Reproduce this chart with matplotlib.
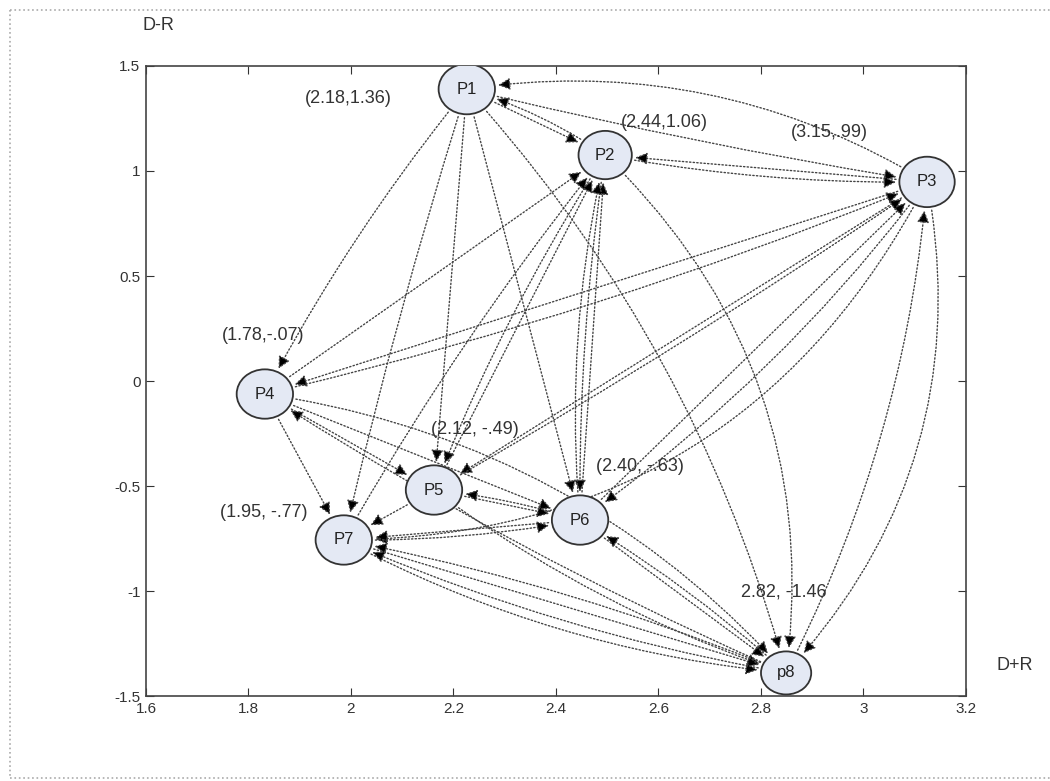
import matplotlib
matplotlib.use('Agg')
import matplotlib.pyplot as plt
from matplotlib.patches import Ellipse, FancyArrowPatch
from matplotlib.lines import Line2D

plt.rcParams['font.family'] = ['Liberation Sans', 'DejaVu Sans']

# node positions (D+R, D-R) as drawn
node_names = ['P1', 'P2', 'P3', 'P4', 'P5', 'P6', 'P7', 'p8']
node_x = [2.226, 2.496, 3.124, 1.832, 2.162, 2.447, 1.986, 2.849]
node_y = [1.39, 1.076, 0.948, -0.062, -0.519, -0.662, -0.757, -1.39]
node_w = [0.110, 0.104, 0.108, 0.110, 0.110, 0.110, 0.110, 0.098]
node_h = [0.240, 0.230, 0.240, 0.235, 0.235, 0.235, 0.235, 0.205]

# coordinate annotations
note_text = ['(2.18,1.36)', '(2.44,1.06)', '(3.15,.99)', '(1.78,-.07)',
             '(2.12, -.49)', '(2.40, -.63)', '(1.95, -.77)', '2.82, -1.46']
note_x = [1.995, 2.612, 2.934, 1.829, 2.241, 2.564, 1.830, 2.845]
note_y = [1.346, 1.229, 1.181, 0.219, -0.233, -0.409, -0.624, -1.005]

# influence edges: (from, to, curvature)
edges = [
    (0, 1, 0.0), (1, 0, 0.08), (2, 0, 0.18), (0, 2, 0.02),
    (2, 1, 0.0), (1, 2, 0.05), (0, 3, 0.05), (0, 4, 0.0),
    (0, 6, 0.02), (0, 5, 0.0), (0, 7, -0.12), (3, 1, 0.0),
    (4, 1, 0.0), (1, 4, 0.05), (5, 1, 0.0), (1, 5, 0.04),
    (6, 1, -0.04), (1, 7, -0.25), (5, 1, -0.08),
    (2, 3, 0.0), (3, 2, 0.04), (2, 4, 0.0), (2, 5, -0.08),
    (2, 6, -0.3), (2, 7, -0.25), (7, 2, 0.1), (5, 2, 0.0),
    (3, 6, 0.0), (3, 4, 0.0), (3, 5, 0.0), (3, 7, -0.18), (7, 3, -0.04),
    (4, 5, 0.0), (5, 4, 0.05), (4, 6, 0.0), (4, 7, 0.08),
    (5, 6, 0.0), (6, 5, 0.05), (5, 7, 0.0), (7, 5, 0.05),
    (6, 7, 0.0), (7, 6, 0.05), (6, 7, 0.1), (7, 6, -0.06), (4, 2, 0.02),
]

fig = plt.figure(figsize=(10.5, 7.81), dpi=100)
ax = fig.add_axes([0.139, 0.1088, 0.781, 0.8067])
ax.set_xlim(1.6, 3.2)
ax.set_ylim(-1.5, 1.5)
ax.set_xticks([1.6, 1.8, 2, 2.2, 2.4, 2.6, 2.8, 3, 3.2])
ax.set_xticklabels(['1.6', '1.8', '2', '2.2', '2.4', '2.6', '2.8', '3', '3.2'])
ax.set_yticks([-1.5, -1, -0.5, 0, 0.5, 1, 1.5])
ax.set_yticklabels(['-1.5', '-1', '-0.5', '0', '0.5', '1', '1.5'])
ax.tick_params(direction='in', top=True, right=True, length=6,
               labelsize=11, colors='#333333', pad=4)
for s in ax.spines.values():
    s.set_color('#444444')
    s.set_linewidth(1.2)

patches = []
for i in range(len(node_names)):
    e = Ellipse((node_x[i], node_y[i]), node_w[i], node_h[i],
                facecolor='#e4e9f4', edgecolor='#333333', lw=1.3, zorder=3)
    ax.add_patch(e)
    patches.append(e)
    ax.text(node_x[i], node_y[i], node_names[i], ha='center', va='center',
            fontsize=12, color='#222222', zorder=4)

for a, b, rad in edges:
    arr = FancyArrowPatch((node_x[a], node_y[a]), (node_x[b], node_y[b]),
                          patchA=patches[a], patchB=patches[b],
                          connectionstyle='arc3,rad=%s' % rad,
                          arrowstyle='-|>,head_length=0.6,head_width=0.3',
                          mutation_scale=12, linestyle=(0, (1, 1.6)), lw=1.0,
                          edgecolor='#444444', facecolor='black', zorder=2)
    ax.add_patch(arr)

for t, x, y in zip(note_text, note_x, note_y):
    ax.text(x, y, t, ha='center', va='center', fontsize=13,
            color='#333333', zorder=5)

fig.text(158 / 1050, 1 - 25 / 781, 'D-R', ha='center', va='center',
         fontsize=13, color='#333333')
fig.text(1015 / 1050, 1 - 665 / 781, 'D+R', ha='center', va='center',
         fontsize=13, color='#333333')

# dotted page frame
fc = '#aaaaaa'
fig.add_artist(Line2D([10 / 1050, 1], [1 - 10 / 781] * 2, ls=':', color=fc, lw=1.2))
fig.add_artist(Line2D([10 / 1050] * 2, [1 - 10 / 781, 1 - 778 / 781], ls=':', color=fc, lw=1.2))
fig.add_artist(Line2D([10 / 1050, 1], [1 - 778 / 781] * 2, ls=':', color=fc, lw=1.2))

fig.savefig('out.png', dpi=100)
